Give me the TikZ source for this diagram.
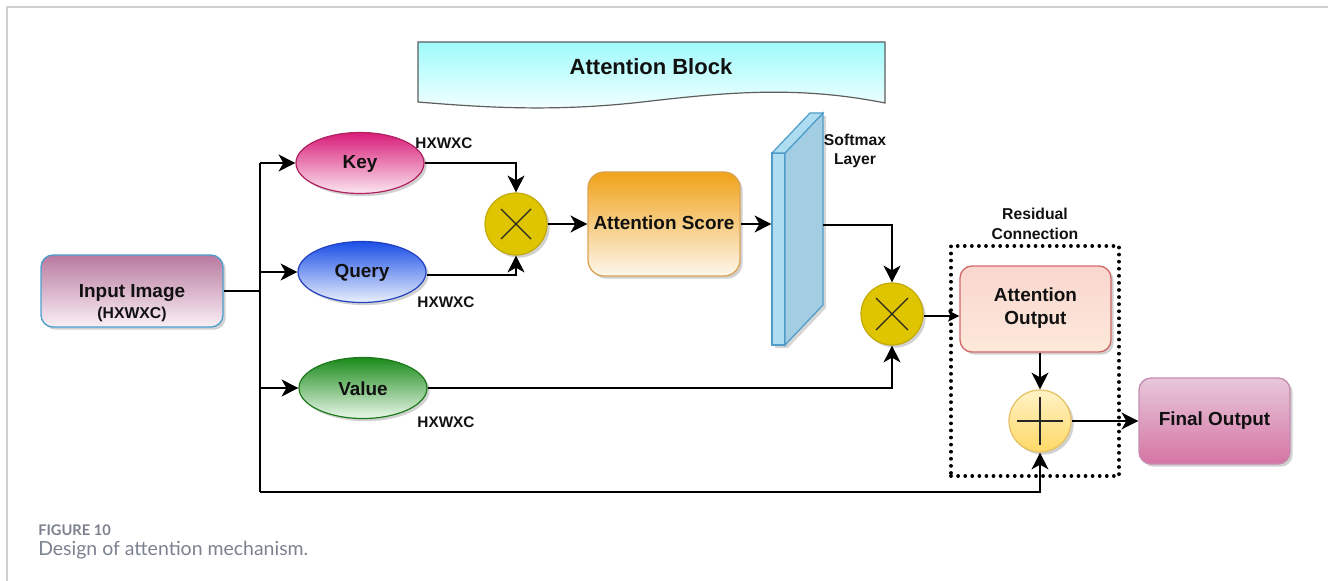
\documentclass[tikz,border=0pt]{standalone}
\usepackage{fontspec}
\setmainfont{Liberation Sans}
\newfontfamily\capfont{Lato}
\usetikzlibrary{arrows.meta,shapes.geometric,shadows,calc}

\definecolor{frameC}{HTML}{CFCFCF}
\definecolor{docTop}{HTML}{9FFBFC}
\definecolor{docBot}{HTML}{F6FFFF}
\definecolor{docLine}{HTML}{5E5E5E}
\definecolor{inTop}{HTML}{B87A9F}
\definecolor{inBot}{HTML}{FAF0F6}
\definecolor{inLine}{HTML}{4A9FCF}
\definecolor{keyTop}{HTML}{D81C78}
\definecolor{keyBot}{HTML}{FBE6F0}
\definecolor{keyLine}{HTML}{B0205F}
\definecolor{qTop}{HTML}{1A4EE6}
\definecolor{qBot}{HTML}{EAF0FD}
\definecolor{qLine}{HTML}{2342C0}
\definecolor{vTop}{HTML}{1A8A1A}
\definecolor{vBot}{HTML}{EAF8EA}
\definecolor{vLine}{HTML}{1C7A1C}
\definecolor{mulFill}{HTML}{DEC500}
\definecolor{mulLine}{HTML}{C4A900}
\definecolor{scTop}{HTML}{F0A21A}
\definecolor{scBot}{HTML}{FDF7EC}
\definecolor{scLine}{HTML}{D9A457}
\definecolor{smFront}{HTML}{AEDCF0}
\definecolor{smSide}{HTML}{A3CDE2}
\definecolor{smLine}{HTML}{4E9CC8}
\definecolor{aoTop}{HTML}{F9D6CF}
\definecolor{aoBot}{HTML}{FDE9DA}
\definecolor{aoLine}{HTML}{D06A6A}
\definecolor{plTop}{HTML}{FFF3C6}
\definecolor{plBot}{HTML}{FFD866}
\definecolor{plLine}{HTML}{E5C163}
\definecolor{foTop}{HTML}{E8C8DA}
\definecolor{foBot}{HTML}{D574A3}
\definecolor{foLine}{HTML}{C68BB0}
\definecolor{capC}{HTML}{7C8190}
\definecolor{ink}{HTML}{111111}

\begin{document}
\begin{tikzpicture}[x=0.75pt,y=-0.75pt,
  lbl/.style={font=\fontsize{14.2pt}{17pt}\selectfont\bfseries, text=ink, align=center},
  small/.style={font=\fontsize{11.8pt}{14.5pt}\selectfont\bfseries, text=ink, align=center},
  dims/.style={font=\fontsize{11.5pt}{14pt}\selectfont\bfseries, text=ink},
  shade/.style={drop shadow={shadow xshift=2pt, shadow yshift=-2pt, opacity=0.18, fill=black}},
  oval/.style={ellipse, minimum width=96pt, minimum height=45.75pt, inner sep=0pt, line width=0.9pt, shade},
  opcircle/.style={circle, minimum size=46.5pt, inner sep=0pt, line width=0.9pt, shade},
  rbox/.style={rectangle, rounded corners=9pt, line width=1pt, shade},
  link/.style={line width=2.1pt, draw=black},
  arr/.style={link, -{Stealth[length=12.5pt, width=12.5pt, inset=3.5pt]}},
  thinarr/.style={line width=1.2pt, draw=black, -{Stealth[length=8.5pt, width=8.5pt, inset=2pt]}},
  sign/.style={line width=1pt, draw=black!85}
]
\useasboundingbox (0,0) rectangle (1328,581);

% page frame
\draw[frameC, line width=1.5pt] (7,581) -- (7,7) -- (1328,7);

% title banner (document shape)
\draw[docLine, line width=0.9pt, top color=docTop, bottom color=docBot]
  (418,42) -- (885,42) -- (885,103)
  .. controls (800,86) and (730,92) .. (651,101)
  .. controls (560,112) and (490,108) .. (418,102) -- cycle;
\node[lbl, font=\fontsize{16.5pt}{19pt}\selectfont\bfseries] (title) at (651,67) {Attention Block};

% input
\node[rbox, draw=inLine, top color=inTop, bottom color=inBot,
      minimum width=136.5pt, minimum height=54pt] (input) at (132,291) {};
\node[lbl] (inputtxt) at (132,303) {Input Image\\[-1pt]{\fontsize{11.8pt}{14pt}\selectfont (HXWXC)}};

% key / query / value
\node[oval, draw=keyLine, top color=keyTop, bottom color=keyBot] (key) at (360,163) {};
\node[lbl] (keytxt) at (360,164) {Key};
\node[oval, draw=qLine, top color=qTop, bottom color=qBot] (query) at (362,272) {};
\node[lbl] (querytxt) at (362,273) {Query};
\node[oval, draw=vLine, top color=vTop, bottom color=vBot] (value) at (363,388) {};
\node[lbl] (valuetxt) at (363,389) {Value};

\node[dims] (dk) at (444,143) {HXWXC};
\node[dims] (dq) at (446,302) {HXWXC};
\node[dims] (dv) at (446,422) {HXWXC};

% first product
\node[opcircle, draw=mulLine, fill=mulFill] (mul1) at (516,224) {};
\draw[sign] ($(mul1)+(-15,-15)$) -- ($(mul1)+(15,15)$);
\draw[sign] ($(mul1)+(-15,15)$) -- ($(mul1)+(15,-15)$);

% attention score
\node[rbox, draw=scLine, top color=scTop, bottom color=scBot,
      minimum width=114pt, minimum height=78pt, rounded corners=12pt] (score) at (664,224) {};
\node[lbl] (scoretxt) at (664,223) {Attention Score};

% softmax slab
\fill[black, opacity=0.16] (775,156) -- (813,116) -- (826,116) -- (826,308) -- (788,348) -- (775,348) -- cycle;
\node[rectangle, draw=smLine, fill=smFront, line width=0.9pt,
      minimum width=9.75pt, minimum height=144pt, inner sep=0pt] (softmax) at (778.5,249) {};
\draw[smLine, line width=0.9pt, fill=smSide] (785,153) -- (823,113) -- (823,305) -- (785,345) -- cycle;
\draw[smLine, line width=0.9pt, fill=smFront] (772,153) -- (810,113) -- (823,113) -- (785,153) -- cycle;
\coordinate (smout) at (823,225);
\node[small] (smtxt) at (855,151) {Softmax\\Layer};

% second product
\node[opcircle, draw=mulLine, fill=mulFill] (mul2) at (892,314) {};
\draw[sign] ($(mul2)+(-16,-16)$) -- ($(mul2)+(16,16)$);
\draw[sign] ($(mul2)+(-16,16)$) -- ($(mul2)+(16,-16)$);

% residual connection group
\node[rectangle, draw=black, line width=2.8pt, line cap=round, dash pattern=on 0.01pt off 5.3pt,
      minimum width=126pt, minimum height=172.5pt, inner sep=0pt] (resid) at (1035,361) {};
\node[small] (residtxt) at (1035,224) {Residual\\Connection};

\node[rbox, draw=aoLine, top color=aoTop, bottom color=aoBot,
      minimum width=113.25pt, minimum height=64.5pt] (ao) at (1035.5,309) {};
\node[lbl] (aotxt) at (1035.5,308) {Attention\\Output};

\node[opcircle, draw=plLine, top color=plTop, bottom color=plBot] (plus) at (1040,421) {};
\draw[sign] ($(plus)+(-23,0)$) -- ($(plus)+(23,0)$);
\draw[sign] ($(plus)+(0,-24)$) -- ($(plus)+(0,24)$);

\node[rbox, draw=foLine, top color=foTop, bottom color=foBot,
      minimum width=113.25pt, minimum height=64.5pt] (final) at (1214.5,421) {};
\node[lbl] (finaltxt) at (1214.5,421) {Final Output};

% connectors
\coordinate (jtop) at (260,163);
\coordinate (jbot) at (260,492);
\draw[link] (input.east) -- (input.east -| jtop);
\draw[link] (jtop) -- (jbot);
\draw[arr] (jtop) -- (key.west);
\draw[arr] (query.west -| jtop) -- (query.west);
\draw[arr] (value.west -| jtop) -- (value.west);
\draw[arr] (jbot) -| (plus.south);
\draw[arr] (key.east) -| (mul1.north);
\draw[arr] ($(query.east)+(0,3)$) -| (mul1.south);
\draw[arr] (mul1.east) -- (score.west);
\draw[arr] (score.east) -- (score.east -| softmax.west);
\draw[arr] (smout) -| (mul2.north);
\draw[arr] (value.east) -| (mul2.south);
\draw[thinarr] ($(mul2.east)+(0,2)$) -- ($(mul2.east -| ao.west)+(0,2)$);
\draw[arr] (ao.south -| plus) -- (plus.north);
\draw[arr] (plus.east) -- (final.west);

% caption
\node[anchor=west, font=\capfont\fontsize{11pt}{13pt}\selectfont\bfseries, text=capC, inner sep=0pt] (fignum) at (38,530) {FIGURE 10};
\node[anchor=west, font=\capfont\fontsize{14.6pt}{17pt}\selectfont, text=capC, inner sep=0pt] (figcap) at (38,550) {Design of attention mechanism.};
\end{tikzpicture}
\end{document}
